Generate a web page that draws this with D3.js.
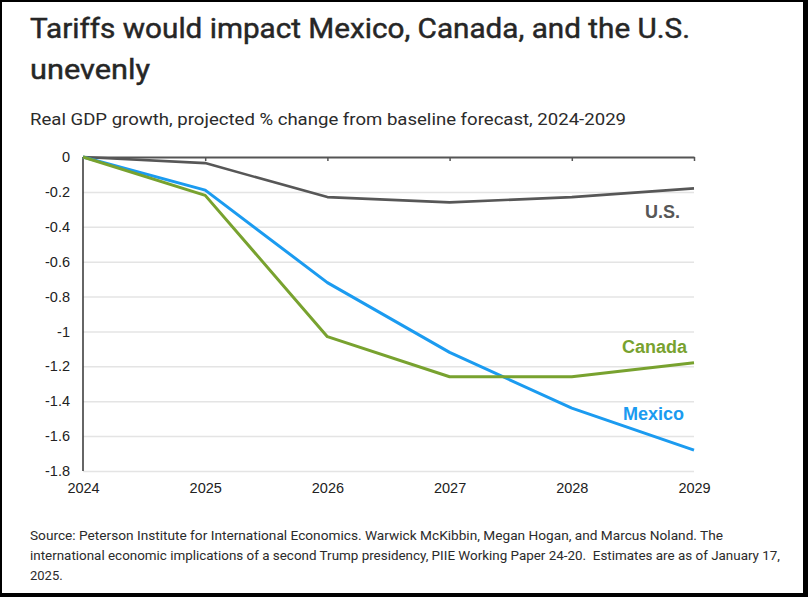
<!DOCTYPE html>
<html>
<head>
<meta charset="utf-8">
<script src="https://cdn.jsdelivr.net/npm/d3@7"></script>
<style>
  html, body { margin: 0; padding: 0; background: #000; }
  svg { display: block; }
</style>
</head>
<body>
<svg id="chart" width="808" height="597"></svg>
<script>
const years = [2024, 2025, 2026, 2027, 2028, 2029];
const usValues = [0, -0.035, -0.23, -0.26, -0.23, -0.18];
const mexicoValues = [0, -0.19, -0.72, -1.12, -1.44, -1.68];
const canadaValues = [0, -0.22, -1.03, -1.26, -1.26, -1.18];
const yTicks = [0, -0.2, -0.4, -0.6, -0.8, -1, -1.2, -1.4, -1.6, -1.8];
const yTickLabels = ["0", "-0.2", "-0.4", "-0.6", "-0.8", "-1", "-1.2", "-1.4", "-1.6", "-1.8"];
const seriesNames = ["U.S.", "Canada", "Mexico"];

const svg = d3.select("#chart");
svg.append("rect").attr("x", 2).attr("y", 2).attr("width", 801).attr("height", 591).attr("fill", "#fff");

const titleFont = "Roboto, 'Open Sans', sans-serif";
const axisFont = "'Liberation Sans', Arial, sans-serif";

svg.append("text").attr("x", 30).attr("y", 38)
  .attr("font-family", titleFont).attr("font-size", 27).attr("fill", "#262626")
  .attr("stroke", "#262626").attr("stroke-width", 0.45)
  .attr("textLength", 660).attr("lengthAdjust", "spacingAndGlyphs")
  .text("Tariffs would impact Mexico, Canada, and the U.S.");
svg.append("text").attr("x", 30).attr("y", 79)
  .attr("font-family", titleFont).attr("font-size", 27).attr("fill", "#262626")
  .attr("stroke", "#262626").attr("stroke-width", 0.45)
  .attr("textLength", 120).attr("lengthAdjust", "spacingAndGlyphs")
  .text("unevenly");
svg.append("text").attr("x", 30).attr("y", 125)
  .attr("font-family", titleFont).attr("font-size", 17).attr("fill", "#2b2b2b")
  .attr("textLength", 596).attr("lengthAdjust", "spacingAndGlyphs")
  .text("Real GDP growth, projected % change from baseline forecast, 2024-2029");

const x = d3.scalePoint().domain(years).range([83, 694]);
const y = d3.scaleLinear().domain([-1.8, 0]).range([471, 157]);

// gridlines
const grid = svg.append("g")
  .attr("transform", "translate(83,0)")
  .call(d3.axisLeft(y).tickValues(yTicks.filter(d => d !== 0)).tickSize(-611).tickFormat(""));
grid.select(".domain").remove();
grid.selectAll(".tick line").attr("stroke", "#e4e4e4").attr("stroke-width", 1.5);

// y axis labels
const yAxis = svg.append("g")
  .attr("transform", "translate(83,0)")
  .call(d3.axisLeft(y).tickValues(yTicks).tickSize(0).tickPadding(13)
    .tickFormat((d, i) => yTickLabels[i]));
yAxis.select(".domain").remove();
yAxis.selectAll("text").attr("font-family", axisFont).attr("font-size", 14.5).attr("fill", "#222");

// left axis line
svg.append("line").attr("x1", 83).attr("x2", 83).attr("y1", y(0)).attr("y2", y(-1.8))
  .attr("stroke", "#333").attr("stroke-width", 1.5);

// x axis labels at bottom
const xAxis = svg.append("g")
  .attr("transform", "translate(0," + y(-1.8) + ")")
  .call(d3.axisBottom(x).tickSize(0).tickPadding(12));
xAxis.select(".domain").remove();
xAxis.selectAll("text").attr("font-family", axisFont).attr("font-size", 14.5).attr("fill", "#222");

// zero line with small ticks
const zeroAxis = svg.append("g")
  .attr("transform", "translate(0," + y(0) + ")")
  .call(d3.axisBottom(x).tickSize(4).tickSizeOuter(0).tickFormat(""));
zeroAxis.select(".domain").attr("stroke", "#555").attr("stroke-width", 2);
zeroAxis.selectAll(".tick line").attr("stroke", "#555").attr("stroke-width", 1.5);
zeroAxis.selectAll(".tick").filter(d => d === 2024).remove();

const line = d3.line().x((d, i) => x(years[i])).y(d => y(d));

const series = [
  { name: seriesNames[0], values: usValues, color: "#575757", width: 2.6 },
  { name: seriesNames[2], values: mexicoValues, color: "#1b9bf0", width: 3 },
  { name: seriesNames[1], values: canadaValues, color: "#78a22f", width: 3 }
];

svg.append("g").selectAll("path").data(series).join("path")
  .attr("d", d => line(d.values))
  .attr("fill", "none")
  .attr("stroke", d => d.color)
  .attr("stroke-width", d => d.width)
  .attr("stroke-linejoin", "round");

const labels = [
  { text: seriesNames[0], x: 680, y: 218, color: "#575757" },
  { text: seriesNames[1], x: 687, y: 353, color: "#78a22f" },
  { text: seriesNames[2], x: 684, y: 420, color: "#1b9bf0" }
];
svg.append("g").selectAll("text").data(labels).join("text")
  .attr("x", d => d.x).attr("y", d => d.y)
  .attr("text-anchor", "end")
  .attr("font-family", axisFont).attr("font-weight", "bold").attr("font-size", 18)
  .attr("fill", d => d.color)
  .text(d => d.text);

const sourceLines = [
  "Source: Peterson Institute for International Economics. Warwick McKibbin, Megan Hogan, and Marcus Noland. The",
  "international economic implications of a second Trump presidency, PIIE Working Paper 24-20.\u00a0\u00a0Estimates are as of January 17,",
  "2025."
];
const sourceWidths = [693, 750, 0];
svg.append("g").selectAll("text").data(sourceLines).join("text")
  .attr("x", 30).attr("y", (d, i) => 540 + i * 20)
  .attr("font-family", titleFont).attr("font-size", 13).attr("fill", "#2b2b2b")
  .each(function(d, i) {
    if (sourceWidths[i] > 0) d3.select(this).attr("textLength", sourceWidths[i]).attr("lengthAdjust", "spacingAndGlyphs");
  })
  .text(d => d);
</script>
</body>
</html>
